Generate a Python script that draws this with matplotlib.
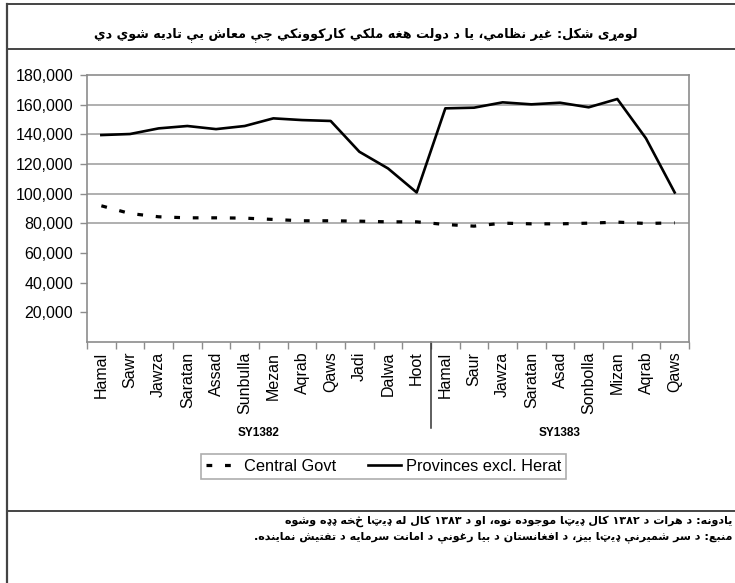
import re
import numpy as np
import matplotlib
matplotlib.use("Agg")
import matplotlib.pyplot as plt
from matplotlib.lines import Line2D
from matplotlib.ticker import StrMethodFormatter

plt.rcParams['font.family'] = ['Liberation Sans', 'DejaVu Sans']

# ---------------- data ----------------
months = ['Hamal', 'Sawr', 'Jawza', 'Saratan', 'Assad', 'Sunbulla', 'Mezan', 'Aqrab',
          'Qaws', 'Jadi', 'Dalwa', 'Hoot',
          'Hamal', 'Saur', 'Jawza', 'Saratan', 'Asad', 'Sonbolla', 'Mizan', 'Aqrab', 'Qaws']
years = ['SY1382', 'SY1383']
year_len = [12, 9]

central_govt = [91800, 86600, 84400, 83700, 83700, 83500, 82600, 81700, 81700, 81450, 81000, 81000,
                79200, 78100, 80100, 79650, 79650, 80100, 80800, 79900, 80300]
provinces = [139500, 140200, 144000, 145600, 143500, 145600, 150750, 149600, 149000, 128250, 117000, 100800,
             157500, 157950, 161550, 160200, 161300, 158200, 163800, 137250, 100800]

yticks = [20000, 40000, 60000, 80000, 100000, 120000, 140000, 160000, 180000]
grid_values = [80000, 100000, 120000, 140000, 160000]

title = "لومړی شکل: غیر نظامي، یا د دولت هغه ملکي کارکوونکي چې معاش یې تادیه شوي دي"
note1 = "یادونه: د هرات د ۱۳۸۲ کال ډیټا موجوده نوه، او د ۱۳۸۳ کال له ډیټا څخه ډډه وشوه"
note2 = "منبع: د سر شمیرنې ډیټا بیز، د افغانستان د بیا رغونې د امانت سرمایه د تفتیش نماینده."

# ---------------- tiny arabic shaper (matplotlib has no RTL shaping) ----------------
FORM_START = {0x0622: (0xFE81, 2), 0x0623: (0xFE83, 2), 0x0624: (0xFE85, 2), 0x0625: (0xFE87, 2),
              0x0626: (0xFE89, 4), 0x0627: (0xFE8D, 2), 0x0628: (0xFE8F, 4), 0x0629: (0xFE93, 2),
              0x062A: (0xFE95, 4), 0x062B: (0xFE99, 4), 0x062C: (0xFE9D, 4), 0x062D: (0xFEA1, 4),
              0x062E: (0xFEA5, 4), 0x062F: (0xFEA9, 2), 0x0630: (0xFEAB, 2), 0x0631: (0xFEAD, 2),
              0x0632: (0xFEAF, 2), 0x0633: (0xFEB1, 4), 0x0634: (0xFEB5, 4), 0x0635: (0xFEB9, 4),
              0x0636: (0xFEBD, 4), 0x0637: (0xFEC1, 4), 0x0638: (0xFEC5, 4), 0x0639: (0xFEC9, 4),
              0x063A: (0xFECD, 4), 0x0641: (0xFED1, 4), 0x0642: (0xFED5, 4), 0x0643: (0xFED9, 4),
              0x0644: (0xFEDD, 4), 0x0645: (0xFEE1, 4), 0x0646: (0xFEE5, 4), 0x0647: (0xFEE9, 4),
              0x0648: (0xFEED, 2), 0x0649: (0xFEEF, 2), 0x064A: (0xFEF1, 4), 0x067E: (0xFB56, 4),
              0x0686: (0xFB7A, 4), 0x0698: (0xFB8A, 2), 0x06A9: (0xFB8E, 4), 0x06AF: (0xFB92, 4),
              0x06CC: (0xFBFC, 4), 0x06D0: (0xFBE4, 4)}
# pashto letters without presentation forms: keep base glyph, but they still join
NO_FORM = {0x0689: 'R', 0x0693: 'R', 0x0696: 'R', 0x06CD: 'R',
           0x067C: 'D', 0x0681: 'D', 0x0685: 'D', 0x069A: 'D', 0x06AB: 'D', 0x06BC: 'D'}
LAM_ALEF = {0x0622: 0xFEF5, 0x0623: 0xFEF7, 0x0625: 0xFEF9, 0x0627: 0xFEFB}


def jtype(ch):
    c = ord(ch)
    if c in FORM_START:
        return 'D' if FORM_START[c][1] == 4 else 'R'
    return NO_FORM.get(c, 'U')


def shape(text):
    out = []
    n = len(text)
    i = 0
    while i < n:
        ch = text[i]
        t = jtype(ch)
        prev_j = i > 0 and t in 'DR' and jtype(text[i - 1]) == 'D'
        if ord(ch) == 0x0644 and i + 1 < n and ord(text[i + 1]) in LAM_ALEF:
            out.append(chr(LAM_ALEF[ord(text[i + 1])] + (1 if prev_j else 0)))
            i += 2
            continue
        next_j = t == 'D' and i + 1 < n and jtype(text[i + 1]) in 'DR'
        if ord(ch) in FORM_START:
            start, cnt = FORM_START[ord(ch)]
            if cnt == 2:
                k = 1 if prev_j else 0
            else:
                k = 3 if (prev_j and next_j) else 1 if prev_j else 2 if next_j else 0
            out.append(chr(start + k))
        else:
            out.append(ch)
        i += 1
    vis = ''.join(out)[::-1]
    return re.sub(r'[0-9\u0660-\u0669\u06F0-\u06F9]+', lambda m: m.group()[::-1], vis)


# ---------------- figure ----------------
fig = plt.figure(figsize=(7.35, 5.83), dpi=100)
ax = fig.add_axes([0.1184, 0.4134, 0.8190, 0.4580])

x = np.arange(len(months))
for g in grid_values:
    ax.axhline(g, color='#9a9a9a', lw=1.1, zorder=0)

ax.plot(x, central_govt, color='black', lw=2.3, dashes=(1.8, 4.0), label='Central Govt')
ax.plot(x, provinces, color='black', lw=1.9, solid_joinstyle='round', label='Provinces excl. Herat')

ax.set_xlim(-0.5, len(months) - 0.5)
ax.set_ylim(0, 180000)
ax.set_yticks(yticks)
ax.yaxis.set_major_formatter(StrMethodFormatter('{x:,.0f}'))
ax.tick_params(axis='y', length=5, width=1, color='#8c8c8c', pad=5, labelsize=11.5)

ax.set_xticks(x)
ax.set_xticklabels(months, rotation=90, fontsize=11.5)
ax.tick_params(axis='x', which='major', length=0, pad=7)
ax.set_xticks(np.arange(-0.5, len(months)), minor=True)
ax.tick_params(axis='x', which='minor', length=5, width=1, color='#8c8c8c')

for s in ax.spines.values():
    s.set_color('#8c8c8c')
    s.set_linewidth(1.2)

# year separators and group labels below the month labels
trans = ax.get_xaxis_transform()
ax.plot([year_len[0] - 0.5, year_len[0] - 0.5], [0, -0.322], color='#333333', lw=1.1,
        transform=trans, clip_on=False)
start = 0
for yr, ln in zip(years, year_len):
    ax.text(start + (ln - 1) / 2, -0.34, yr, transform=trans, ha='center', va='center',
            fontsize=8.5, fontweight='bold')
    start += ln

h, l = ax.get_legend_handles_labels()
leg = fig.legend(h, l, loc='center', bbox_to_anchor=(0.522, 0.2), ncol=2, fontsize=11.8,
                 frameon=True, fancybox=False, edgecolor='#999999', borderpad=0.3,
                 handlelength=2.0, handletextpad=0.3, columnspacing=2.0, borderaxespad=0)
leg.get_frame().set_linewidth(1.2)

# page frame lines
fc = '#444444'
fig.add_artist(Line2D([0.0095, 0.0095], [0, 0.9931], transform=fig.transFigure, color=fc, lw=1.6))
for yy in [0.9931, 0.916, 0.1235]:
    fig.add_artist(Line2D([0.0095, 1.0], [yy, yy], transform=fig.transFigure, color=fc, lw=1.4))

fig.text(0.497, 1 - 35 / 583, shape(title), ha='center', va='center', fontsize=9.2,
         fontweight='bold', family=['DejaVu Sans'])
fig.text(0.997, 1 - 521 / 583, shape(note1), ha='right', va='center', fontsize=8,
         fontweight='bold', family=['DejaVu Sans'])
fig.text(0.997, 1 - 537 / 583, shape(note2), ha='right', va='center', fontsize=8,
         fontweight='bold', family=['DejaVu Sans'])

fig.savefig('out.png', dpi=100)
